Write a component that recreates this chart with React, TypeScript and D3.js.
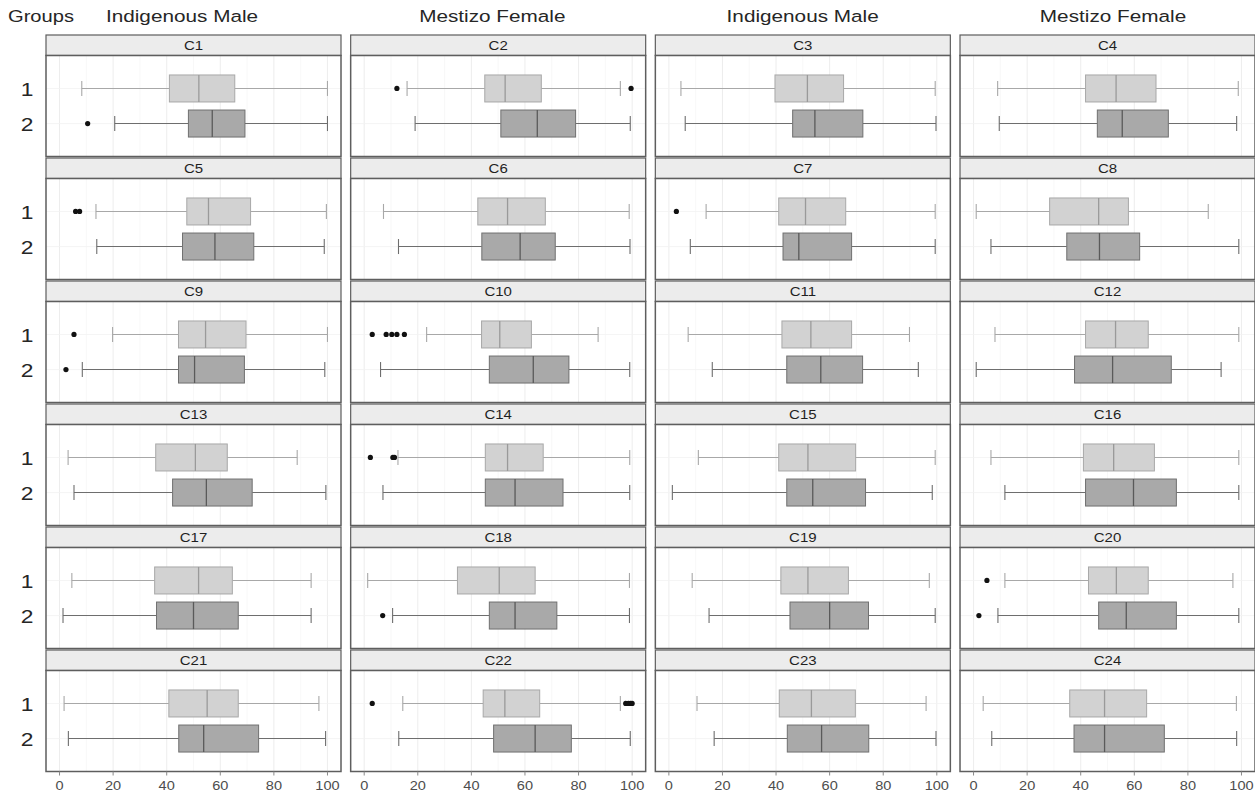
import React from "react";
import * as d3 from "d3";

const panelNames = ["C1","C2","C3","C4","C5","C6","C7","C8","C9","C10","C11","C12","C13","C14","C15","C16","C17","C18","C19","C20","C21","C22","C23","C24"];
const colHeaders = ["Indigenous Male","Mestizo Female","Indigenous Male","Mestizo Female"];
const groups = ["1","2"];
const xTicks = [0,20,40,60,80,100];
const gridMinor = [10,30,50,70,90];

// [lower whisker, q1, median, q3, upper whisker]
const g1Stats = [
  [8.3,41,52,65.4,100],[16,45,52.6,66.1,95.6],[4.5,39.6,51.7,65.2,99.4],[9,41.8,53.2,68.1,98.8],
  [13.6,47.5,55.6,71.3,99.6],[7.2,42.4,53.5,67.6,98.9],[13.9,41,51,66,99.4],[1,28.4,46.7,57.8,87.6],
  [19.8,44.4,54.5,69.6,100],[23.3,43.8,50.6,62.4,87.3],[7.2,42.2,53,68.2,89.8],[8,41.8,53,65.2,99],
  [3.2,35.9,50.7,62.6,88.7],[12.6,45.2,53.5,66.8,99.1],[11,41,51.9,69.7,99.4],[6.5,41,52.3,67.5,99],
  [4.6,35.5,51.9,64.5,93.9],[1.3,34.8,50.4,63.8,99],[8.7,41.8,51.9,67,97.2],[11.7,42.9,53.3,65.2,96.8],
  [1.7,40.8,55.1,66.7,96.8],[14.4,44.4,52.5,65.5,95.6],[10.5,41.2,53.2,69.6,96],[3.6,35.9,48.9,64.6,98.1]
];
const g1Outliers = [
  [],[12.2,99.6],[],[],
  [6,7.5],[],[2.8],[],
  [5.4],[3,8.2,10.3,12.2,15],[],[],
  [],[2.3,10.7,11.3],[],[],
  [],[],[],[5],
  [],[3,97.6,98.6,99.4,100],[],[]
];
const g2Stats = [
  [20.6,48.1,57,69.2,100],[19,51,64.6,78.9,99.3],[6.1,46.2,54.5,72.4,99.7],[9.6,46.2,55.5,72.7,98.2],
  [13.9,45.9,58,72.5,98.8],[12.8,43.9,58.2,71.3,99.2],[8,42.6,48.5,68.2,99.4],[6.5,34.8,47,62,99],
  [8.5,44.4,50.4,69,99],[6.1,46.7,63.1,76.4,99.1],[16.2,44,56.7,72.3,93.1],[1,37.7,51.9,73.8,92.4],
  [5.4,42.2,54.8,71.9,99.4],[7,45.2,56.3,74.2,99.1],[1.3,44,53.7,73.4,98.3],[11.7,41.8,59.7,75.7,99],
  [1.3,36.2,50,66.7,93.9],[10.6,46.7,56.3,71.9,99],[15,45.2,60,74.5,99.4],[9.1,46.7,57,75.7,99],
  [3.3,44.5,53.8,74.3,99.3],[12.9,48.3,63.8,77.3,99.3],[16.9,44.2,57,74.6,99.7],[6.8,37.5,48.9,71.2,98.2]
];
const g2Outliers = [
  [10.5],[],[],[],
  [],[],[],[],
  [2.4],[],[],[],
  [],[],[],[],
  [],[6.9],[],[2],
  [],[],[],[]
];

const W = 1255, H = 795;
const nCols = 4, nRows = 6;
const left = 46, panelW = 295, colGap = 9.67;
const top = 35, rowPitch = 123, stripH = 20.5, panelH = 101;

const groupStyle = [
  { fill: "#d2d2d2", stroke: "#a8a8a8", med: "#9a9a9a", whisk: "#a8a8a8" },
  { fill: "#a9a9a9", stroke: "#707070", med: "#5a5a5a", whisk: "#6e6e6e" },
];

const FONT = "'Liberation Sans', Arial, Helvetica, sans-serif";

export default function App() {
  const x = d3.scaleLinear().domain([-5.05, 105.05]).range([0, panelW]);
  const y = d3.scalePoint<string>().domain(groups).range([0, panelH]).padding(0.94);
  const boxH = 27;
  const capH = 15;
  const headerX = d3.scaleLinear().domain([0, 3]).range([182, 1113]);

  const colX = (c: number) => left + c * (panelW + colGap);
  const rowY = (r: number) => top + r * rowPitch;

  return (
    <svg width={W} height={H} style={{ position: "absolute", left: 0, top: 0, background: "#fff" }} fontFamily={FONT}>
      <rect x={0} y={0} width={W} height={H} fill="#fff" />
      <text transform={`translate(8,22) scale(1.22,1)`} fontSize={16.5} fill="#262626">Groups</text>
      {colHeaders.map((h, i) => (
        <text key={i} transform={`translate(${headerX(i)},22) scale(1.22,1)`} textAnchor="middle" fontSize={17} fill="#262626">{h}</text>
      ))}
      {panelNames.map((name, i) => {
        const c = i % nCols, r = Math.floor(i / nCols);
        const px = colX(c), py = rowY(r);
        const pTop = py + stripH;
        const stats = [g1Stats[i], g2Stats[i]];
        const outs = [g1Outliers[i], g2Outliers[i]];
        return (
          <g key={name}>
            <rect x={px} y={py} width={panelW} height={stripH} fill="#ececec" stroke="#5e5e5e" strokeWidth={1.2} />
            <text transform={`translate(${px + panelW / 2},${py + stripH / 2 + 4.5}) scale(1.25,1)`} textAnchor="middle" fontSize={12} fill="#1f1f1f">{name}</text>
            <g transform={`translate(${px},${pTop})`}>
              <rect x={0} y={0} width={panelW} height={panelH} fill="#fff" />
              {gridMinor.map(t => (
                <line key={"m" + t} x1={x(t)} x2={x(t)} y1={0} y2={panelH} stroke="#f4f4f4" strokeWidth={0.6} />
              ))}
              {xTicks.map(t => (
                <line key={"M" + t} x1={x(t)} x2={x(t)} y1={0} y2={panelH} stroke="#ebebeb" strokeWidth={0.9} />
              ))}
              {groups.map(g => (
                <line key={"h" + g} x1={0} x2={panelW} y1={y(g)!} y2={y(g)!} stroke="#f2f2f2" strokeWidth={0.8} />
              ))}
              {groups.map((g, gi) => {
                const s = stats[gi];
                const st = groupStyle[gi];
                const cy = y(g)!;
                return (
                  <g key={g}>
                    <line x1={x(s[0])} x2={x(s[1])} y1={cy} y2={cy} stroke={st.whisk} strokeWidth={1.1} />
                    <line x1={x(s[3])} x2={x(s[4])} y1={cy} y2={cy} stroke={st.whisk} strokeWidth={1.1} />
                    <line x1={x(s[0])} x2={x(s[0])} y1={cy - capH / 2} y2={cy + capH / 2} stroke={st.whisk} strokeWidth={1.1} />
                    <line x1={x(s[4])} x2={x(s[4])} y1={cy - capH / 2} y2={cy + capH / 2} stroke={st.whisk} strokeWidth={1.1} />
                    <rect x={x(s[1])} y={cy - boxH / 2} width={x(s[3]) - x(s[1])} height={boxH} fill={st.fill} stroke={st.stroke} strokeWidth={1} />
                    <line x1={x(s[2])} x2={x(s[2])} y1={cy - boxH / 2} y2={cy + boxH / 2} stroke={st.med} strokeWidth={1.3} />
                    {outs[gi].map((o, k) => (
                      <circle key={k} cx={x(o)} cy={cy} r={2.6} fill="#111" />
                    ))}
                  </g>
                );
              })}
              <rect x={0} y={0} width={panelW} height={panelH} fill="none" stroke="#5e5e5e" strokeWidth={1.5} />
              {r === nRows - 1 && xTicks.map(t => (
                <g key={"t" + t}>
                  <line x1={x(t)} x2={x(t)} y1={panelH} y2={panelH + 4} stroke="#8a8a8a" strokeWidth={1} />
                  <text transform={`translate(${x(t)},${panelH + 18.5}) scale(1.12,1)`} textAnchor="middle" fontSize={13} fill="#4d4d4d">{t}</text>
                </g>
              ))}
            </g>
            {c === 0 && groups.map(g => (
              <text key={"y" + g} transform={`translate(27,${pTop + y(g)! + 7.5}) scale(1.2,1)`} textAnchor="middle" fontSize={19} fill="#262626">{g}</text>
            ))}
          </g>
        );
      })}
    </svg>
  );
}
